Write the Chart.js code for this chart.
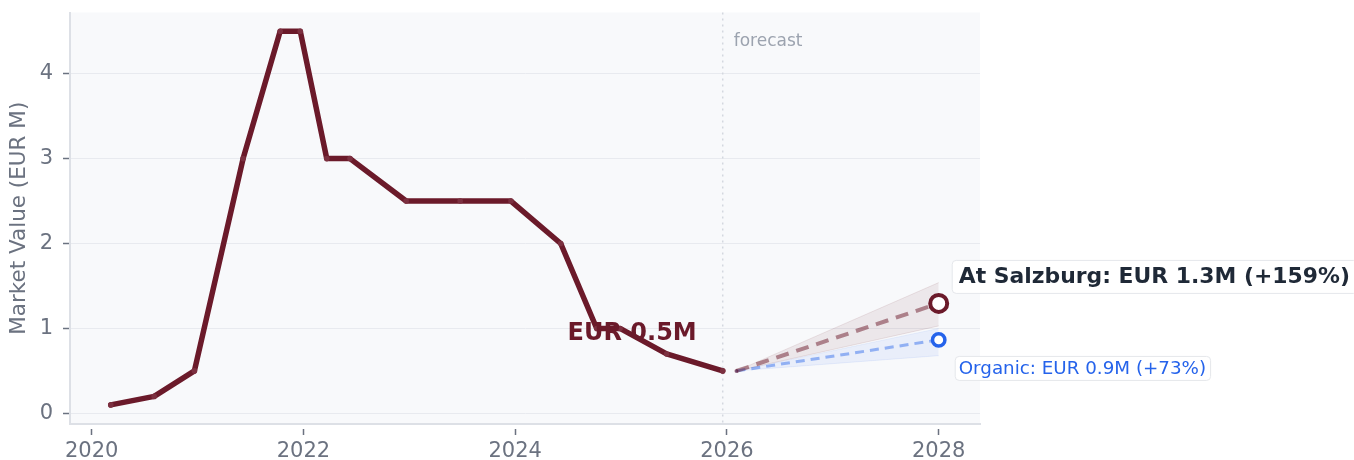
<!DOCTYPE html>
<html>
<head>
<meta charset="utf-8">
<script src="https://cdn.jsdelivr.net/npm/chart.js@4/dist/chart.umd.min.js"></script>
<style>
  html, body { margin: 0; padding: 0; background: #ffffff; }
  #wrap { width: 1354px; height: 460px; }
</style>
</head>
<body>
<div id="wrap"><canvas id="c" width="1354" height="460"></canvas></div>
<script>
// ---- data (decimal years, EUR M) ----
const histX = [2020.18, 2020.59, 2020.97, 2021.43, 2021.78, 2021.97, 2022.22, 2022.44, 2022.97, 2023.48, 2023.96, 2024.43, 2024.77, 2024.99, 2025.43, 2025.96];
const histY = [0.1, 0.2, 0.5, 3.0, 4.5, 4.5, 3.0, 3.0, 2.5, 2.5, 2.5, 2.0, 1.0, 1.0, 0.7, 0.5];

const forecastX = [2026.09, 2028.0];
const salzburgY = [0.5, 1.295];
const salzburgHi = [0.5, 1.54];
const salzburgLo = [0.5, 1.03];
const organicY = [0.5, 0.865];
const organicHi = [0.5, 1.0];
const organicLo = [0.5, 0.68];

const xTicks = [2020, 2022, 2024, 2026, 2028];
const yTicks = [0, 1, 2, 3, 4];

const yTitle = 'Market Value (EUR M)';
const forecastLabel = 'forecast';
const salzburgName = 'At Salzburg';
const organicName = 'Organic';

// ---- styling ----
const MAROON = '#6b1a2a';
const BLUE = '#2563eb';
const FONT = "'DejaVu Sans', sans-serif";

const pts = (xs, ys) => xs.map((x, i) => ({ x: x, y: ys[i] }));
const last = histY.length - 1;
const pct = (a, b) => Math.round((b / a - 1) * 100);
const salzLabel = salzburgName + ': EUR ' + salzburgY[1].toFixed(1) + 'M (+' + pct(salzburgY[0], salzburgY[1]) + '%)';
const orgLabel = organicName + ': EUR ' + organicY[1].toFixed(1) + 'M (+' + pct(organicY[0], organicY[1]) + '%)';
const lastLabel = 'EUR ' + histY[last].toFixed(1) + 'M';

const bgPlugin = {
  id: 'bg',
  beforeDraw(chart) {
    const { ctx, chartArea: a } = chart;
    ctx.save();
    ctx.fillStyle = '#f8f9fb';
    ctx.fillRect(a.left, a.top, a.right - a.left, a.bottom - a.top);
    ctx.restore();
  },
  beforeDatasetsDraw(chart) {
    const { ctx, chartArea: a, scales } = chart;
    const x = scales.x.getPixelForValue(histX[last]);
    ctx.save();
    ctx.strokeStyle = '#d4d8df';
    ctx.lineWidth = 1.5;
    ctx.setLineDash([2, 4]);
    ctx.beginPath();
    ctx.moveTo(x, a.top);
    ctx.lineTo(x, a.bottom);
    ctx.stroke();
    ctx.setLineDash([]);
    ctx.fillStyle = '#9ca3af';
    ctx.font = '17px ' + FONT;
    ctx.textAlign = 'left';
    ctx.textBaseline = 'middle';
    ctx.fillText(forecastLabel, x + 11, a.top + 29);
    ctx.restore();
  },
  afterDatasetsDraw(chart) {
    const { ctx, scales } = chart;
    const xs = scales.x, ys = scales.y;
    ctx.save();
    const lx = xs.getPixelForValue(histX[last]);
    const ly = ys.getPixelForValue(histY[last]);
    ctx.font = 'bold 24px ' + FONT;
    ctx.fillStyle = MAROON;
    ctx.textAlign = 'right';
    ctx.textBaseline = 'middle';
    ctx.fillText(lastLabel, lx - 26, ly - 37);

    function box(text, font, color, px, py, dy, padX, h) {
      ctx.font = font;
      const w = ctx.measureText(text).width;
      const tx = px + 20;
      const ty = py + dy;
      const bx = tx - padX, by = ty - h / 2, bw = w + padX * 2;
      ctx.fillStyle = 'rgba(255,255,255,0.95)';
      ctx.strokeStyle = '#e5e7eb';
      ctx.lineWidth = 1;
      ctx.beginPath();
      ctx.roundRect(bx + 0.5, by + 0.5, bw, h, 4);
      ctx.fill();
      ctx.stroke();
      ctx.fillStyle = color;
      ctx.textAlign = 'left';
      ctx.textBaseline = 'middle';
      ctx.fillText(text, tx, ty + 1);
    }
    const ex = xs.getPixelForValue(forecastX[1]);
    box(salzLabel, 'bold 21.9px ' + FONT, '#1f2937', ex, ys.getPixelForValue(salzburgY[1]), -27, 7, 33);
    box(orgLabel, '18.3px ' + FONT, BLUE, ex, ys.getPixelForValue(organicY[1]), 28, 4, 24);
    ctx.restore();
  }
};

const ctx = document.getElementById('c').getContext('2d');
new Chart(ctx, {
  type: 'line',
  data: {
    datasets: [
      {
        label: 'history',
        data: pts(histX, histY),
        borderColor: MAROON,
        backgroundColor: MAROON,
        borderWidth: 5.5,
        borderJoinStyle: 'round',
        borderCapStyle: 'round',
        pointRadius: 2.8,
        pointBorderWidth: 0,
        pointBackgroundColor: '#7c3040',
        tension: 0,
        fill: false,
        order: 1
      },
      {
        label: 'salzburg',
        data: pts(forecastX, salzburgY),
        borderColor: 'rgba(107,26,42,0.5)',
        borderWidth: 4,
        borderDash: [13, 8],
        pointRadius: [2, 8.5],
        pointBorderWidth: [0, 4],
        pointBorderColor: ['rgba(107,26,42,0.6)', MAROON],
        pointBackgroundColor: ['rgba(107,26,42,0.6)', '#ffffff'],
        tension: 0,
        fill: false,
        order: 2
      },
      {
        label: 'organic',
        data: pts(forecastX, organicY),
        borderColor: 'rgba(37,99,235,0.45)',
        borderWidth: 3,
        borderDash: [9, 6],
        pointRadius: [1.5, 6.2],
        pointBorderWidth: [0, 3.5],
        pointBorderColor: ['rgba(37,99,235,0.5)', BLUE],
        pointBackgroundColor: ['rgba(37,99,235,0.5)', '#ffffff'],
        tension: 0,
        fill: false,
        order: 3
      },
      {
        label: 'salzburgHi',
        data: pts(forecastX, salzburgHi),
        borderColor: 'rgba(107,26,42,0.10)',
        borderWidth: 1,
        pointRadius: 0,
        backgroundColor: 'rgba(107,26,42,0.08)',
        fill: '+1',
        tension: 0,
        order: 5
      },
      {
        label: 'salzburgLo',
        data: pts(forecastX, salzburgLo),
        borderColor: 'rgba(107,26,42,0.10)',
        borderWidth: 1,
        pointRadius: 0,
        fill: false,
        tension: 0,
        order: 5
      },
      {
        label: 'organicHi',
        data: pts(forecastX, organicHi),
        borderColor: 'rgba(37,99,235,0.08)',
        borderWidth: 1,
        pointRadius: 0,
        backgroundColor: 'rgba(37,99,235,0.07)',
        fill: '+1',
        tension: 0,
        order: 6
      },
      {
        label: 'organicLo',
        data: pts(forecastX, organicLo),
        borderColor: 'rgba(37,99,235,0.08)',
        borderWidth: 1,
        pointRadius: 0,
        fill: false,
        tension: 0,
        order: 6
      }
    ]
  },
  options: {
    responsive: false,
    animation: false,
    devicePixelRatio: 1,
    layout: { padding: { top: 10, right: 374, left: 0, bottom: 0 } },
    plugins: {
      legend: { display: false },
      tooltip: { enabled: false },
      title: { display: false }
    },
    scales: {
      x: {
        type: 'linear',
        min: 2019.795,
        max: 2028.39,
        afterFit(s) { s.height = 36; s.paddingLeft = 0; s.paddingRight = 0; },
        afterBuildTicks(s) { s.ticks = xTicks.map(v => ({ value: v })); },
        ticks: {
          color: '#6b7280',
          font: { family: FONT, size: 21 },
          padding: 4,
          maxRotation: 0,
          autoSkip: false,
          callback: v => String(v)
        },
        grid: {
          display: true,
          drawOnChartArea: false,
          drawTicks: true,
          tickLength: 11,
          tickColor: '#6b7280',
          tickWidth: 1.5,
          tickBorderDash: [0, 4, 8, 100]
        },
        border: { display: true, color: '#dde0e6', width: 2 }
      },
      y: {
        type: 'linear',
        min: -0.125,
        max: 4.72,
        afterFit(s) { s.width = 70; s.paddingTop = 0; s.paddingBottom = 0; },
        afterBuildTicks(s) { s.ticks = yTicks.map(v => ({ value: v })); },
        ticks: {
          color: '#6b7280',
          font: { family: FONT, size: 21 },
          padding: 10,
          callback: v => String(v)
        },
        grid: {
          color: '#e8eaef',
          lineWidth: 1,
          drawTicks: true,
          tickLength: 7,
          tickColor: '#6b7280',
          tickWidth: 1.5
        },
        border: { display: true, color: '#dde0e6', width: 2 },
        title: {
          display: true,
          text: yTitle,
          color: '#6b7280',
          font: { family: FONT, size: 21.5 },
          padding: { top: 7, bottom: 0 }
        }
      }
    }
  },
  plugins: [bgPlugin]
});
</script>
</body>
</html>
